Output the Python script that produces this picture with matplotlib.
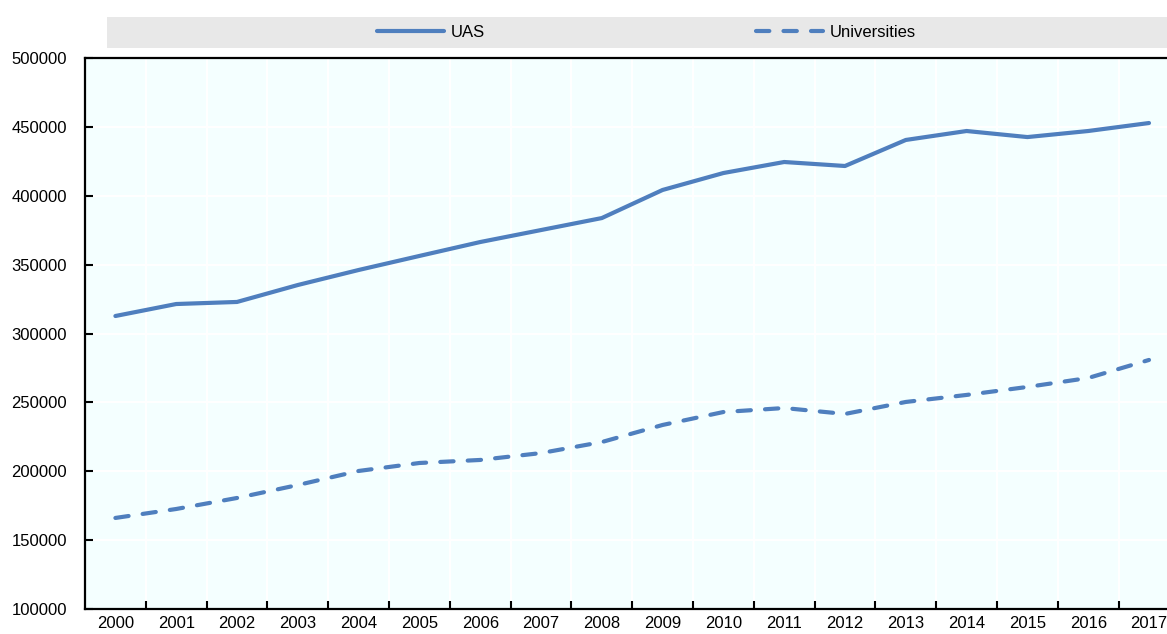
import matplotlib
matplotlib.use("Agg")
import matplotlib.pyplot as plt
from matplotlib.lines import Line2D
import numpy as np

# ── Data ──────────────────────────────────────────────────────
years = ["2000", "2001", "2002", "2003", "2004", "2005", "2006", "2007", "2008",
         "2009", "2010", "2011", "2012", "2013", "2014", "2015", "2016", "2017"]
uas = [312700, 321400, 322900, 335200, 346100, 356300, 366400, 375100, 383800,
       404200, 416500, 424500, 421600, 440500, 447000, 442600, 447000, 452800]
universities = [166100, 172600, 180600, 190000, 200200, 206000, 208200, 213200, 221200,
                233600, 243000, 245900, 241600, 250300, 255400, 261200, 267700, 280800]
y_ticks = [100000, 150000, 200000, 250000, 300000, 350000, 400000, 450000, 500000]

LINE_COLOR = "#4F7FBE"
BG_COLOR = "#F4FFFF"
LEGEND_BG = "#E8E8E8"
FS = 12

plt.rcParams["font.family"] = ["Liberation Sans", "DejaVu Sans"]
plt.rcParams["font.size"] = FS

W, H = 1167, 634
fig = plt.figure(figsize=(W / 100, H / 100), dpi=100)

# main axes — positioned in pixels, right side runs off the canvas like the source
left, right, top, bottom = 85, 85 + 18 * 60.8, 58, 609
ax = fig.add_axes([left / W, (H - bottom) / H, (right - left) / W, (bottom - top) / H])
ax.set_facecolor(BG_COLOR)

x = np.arange(len(years))
ax.plot(x, uas, color=LINE_COLOR, linewidth=3.0, solid_capstyle="round",
        solid_joinstyle="round", zorder=3)
ax.plot(x, universities, color=LINE_COLOR, linewidth=3.0, linestyle=(0, (3.2, 3.4)),
        dash_capstyle="round", zorder=3)

ax.set_xlim(-0.5, len(years) - 0.5)
ax.set_ylim(y_ticks[0], y_ticks[-1])
ax.set_yticks(y_ticks)
ax.set_yticklabels([str(v) for v in y_ticks])
ax.set_xticks(x)
ax.set_xticklabels(years)
ax.set_xticks(x[:-1] + 0.5, minor=True)

# white grid: horizontal at y ticks, vertical at category boundaries
for v in y_ticks[1:-1]:
    ax.axhline(v, color="white", linewidth=1.5, zorder=1)
for b in x[:-1] + 0.5:
    ax.axvline(b, color="white", linewidth=1.5, zorder=1)

ax.tick_params(axis="x", which="major", length=0, pad=5)
ax.tick_params(axis="x", which="minor", direction="in", length=6, width=1.5, color="black")
ax.tick_params(axis="y", which="major", direction="in", length=6, width=1.5, pad=13)

for side in ("left", "bottom", "top"):
    ax.spines[side].set_color("black")
    ax.spines[side].set_linewidth(1.6)
ax.spines["right"].set_visible(False)

# ── Legend strip ──────────────────────────────────────────────
lx0, lx1, ly0, ly1 = 107, 1167, 17, 48
leg_ax = fig.add_axes([lx0 / W, (H - ly1) / H, (lx1 - lx0) / W, (ly1 - ly0) / H])
leg_ax.set_facecolor(LEGEND_BG)
leg_ax.set_xticks([])
leg_ax.set_yticks([])
for s in leg_ax.spines.values():
    s.set_visible(False)

handles = [
    Line2D([], [], color=LINE_COLOR, linewidth=3.0, solid_capstyle="round"),
    Line2D([], [], color=LINE_COLOR, linewidth=3.0, linestyle=(0, (3.2, 3.4)),
           dash_capstyle="round"),
]
leg_ax.legend(handles, ["UAS", "Universities"], ncol=2, frameon=False,
              loc="center", bbox_to_anchor=(0.509, 0.5), handlelength=4.0,
              handletextpad=0.4, columnspacing=16.3, fontsize=FS,
              borderaxespad=0, borderpad=0)

fig.savefig("out.png", dpi=100)
